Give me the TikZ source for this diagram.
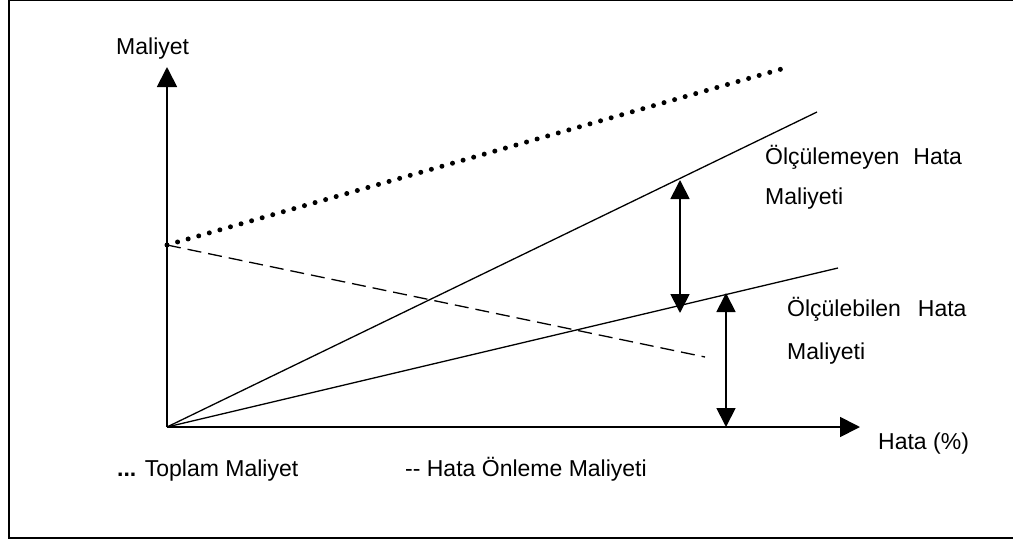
\documentclass[tikz,border=0pt]{standalone}
\usepackage{fontspec}
\setmainfont{Liberation Sans}
\usetikzlibrary{arrows.meta}
\begin{document}
\begin{tikzpicture}[x=1pt,y=-1pt,
  lbl/.style={anchor=base west,inner sep=0pt,font=\fontsize{23}{27}\selectfont},
  axis/.style={line width=1.8pt,-{Triangle[length=20pt,width=20pt]}},
  gap/.style={line width=1.8pt,{Triangle[length=19pt,width=19pt]}-{Triangle[length=19pt,width=19pt]}},
  cost/.style={line width=1.3pt},
  prevent/.style={line width=1.3pt,dash pattern=on 14pt off 7pt},
  total/.style={line width=5pt,line cap=round,dash pattern=on 0pt off 11pt}]
  \useasboundingbox (0,0) rectangle (1013,541);
  \fill[white] (0,0) rectangle (1013,541);
  % frame
  \begin{scope}
    \clip (0,0) rectangle (1013,541);
    \draw[line width=1.6pt] (8.8,0.6) rectangle (1030,537.8);
  \end{scope}
  % axes
  \coordinate (O) at (167,427);
  \coordinate (ytip) at (167,67);
  \coordinate (xtip) at (860,427);
  \draw[axis] (O) -- (ytip);
  \draw[axis] (O) -- (xtip);
  \node[lbl] (ylab) at (116,54) {Maliyet};
  \node[lbl] (xlab) at (878,449) {Hata (\%)};
  % cost curves
  \coordinate (S) at (167,245);
  \coordinate (totEnd) at (785,68);
  \coordinate (prevEnd) at (705,357);
  \coordinate (unmEnd) at (817,112);
  \coordinate (mEnd) at (838,268);
  \draw[total] (S) -- (totEnd);
  \draw[prevent] (S) -- (prevEnd);
  \draw[cost] (O) -- (unmEnd);
  \draw[cost] (O) -- (mEnd);
  % gaps between curves
  \coordinate (g1a) at (680,180);
  \coordinate (g1b) at (680,313);
  \coordinate (g2a) at (726,293);
  \coordinate (g2b) at (726,427);
  \draw[gap] (g1a) -- (g1b);
  \draw[gap] (g2a) -- (g2b);
  % curve labels
  \node[lbl] (unm1) at (765,164) {Ölçülemeyen\hspace{14pt}Hata};
  \node[lbl] (unm2) at (765,204) {Maliyeti};
  \node[lbl] (m1) at (787,316) {Ölçülebilen\hspace{17pt}Hata};
  \node[lbl] (m2) at (787,359) {Maliyeti};
  % legend
  \node[lbl] (leg1) at (117,476) {\textbf{...} Toplam Maliyet};
  \node[lbl] (leg2) at (405,476) {-{}- Hata Önleme Maliyeti};
\end{tikzpicture}
\end{document}
